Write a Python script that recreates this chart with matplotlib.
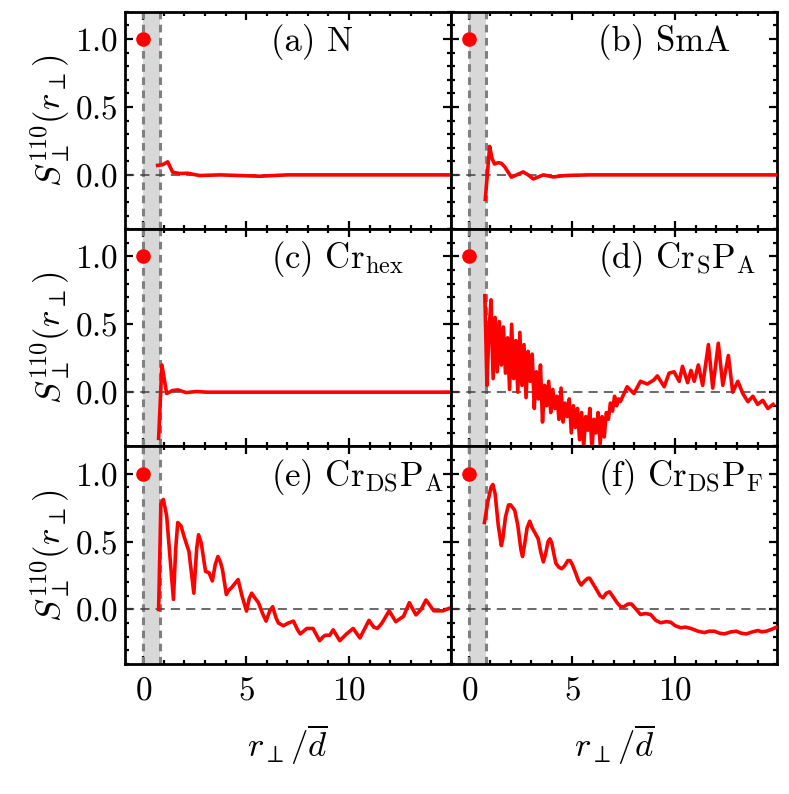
import numpy as np
import matplotlib
matplotlib.use("Agg")
import matplotlib.pyplot as plt
from matplotlib.ticker import MultipleLocator

plt.rcParams['font.family'] = ['cmr10', 'DejaVu Serif']
plt.rcParams['mathtext.fontset'] = 'cm'
plt.rcParams['axes.formatter.use_mathtext'] = True

# ---------------- data ----------------
labels = ["(a) N", "(b) SmA", r"(c) Cr$_{\mathrm{hex}}$", r"(d) Cr$_{\mathrm{S}}$P$_{\mathrm{A}}$",
          r"(e) Cr$_{\mathrm{DS}}$P$_{\mathrm{A}}$", r"(f) Cr$_{\mathrm{DS}}$P$_{\mathrm{F}}$"]

xa = [0.70, 0.95, 1.19, 1.43, 1.76, 2.17, 2.74, 3.72, 5.67, 7.0, 10.2, 14.9]
ya = [0.07, 0.075, 0.096, 0.02, 0.01, 0.012, -0.005, 0.0, -0.01, 0.0, 0.0, 0.0]

xb = [0.77, 0.98, 1.10, 1.22, 1.40, 1.55, 1.71, 2.04, 2.30, 2.61, 2.85, 3.10, 3.35, 3.59, 4.07, 4.65, 5.8, 7.4, 10.7, 14.9]
yb = [-0.18, 0.21, 0.12, 0.08, 0.09, 0.085, 0.06, -0.017, 0.0, 0.022, 0.0, -0.03, -0.015, 0.0, -0.015, -0.005, 0.0, 0.0, 0.0, 0.0]

xc = [0.75, 0.91, 1.14, 1.43, 1.68, 2.09, 2.59, 3.07, 5.0, 14.9]
yc = [-0.34, 0.20, -0.01, 0.012, 0.017, -0.003, 0.005, 0.0, 0.0, 0.0]

xd = [0.75, 0.85, 0.95, 1.05, 1.15, 1.25, 1.35, 1.45, 1.55, 1.65,
      1.75, 1.85, 1.95, 2.05, 2.15, 2.25, 2.35, 2.45, 2.55, 2.65,
      2.75, 2.85, 2.95, 3.05, 3.15, 3.25, 3.35, 3.45, 3.55, 3.65,
      3.75, 3.85, 3.95, 4.05, 4.15, 4.25, 4.35, 4.45, 4.55, 4.65,
      4.75, 4.85, 4.95, 5.05, 5.15, 5.25, 5.35, 5.45, 5.55, 5.65,
      5.75, 5.85, 5.95, 6.05, 6.15, 6.25, 6.35, 6.45, 6.55, 6.65,
      6.75, 6.85, 6.95, 7.05, 7.15, 7.25,
      7.33, 7.66, 7.99, 8.31, 8.64, 8.96, 9.13, 9.46, 9.70, 9.94,
      10.19, 10.35, 10.60, 10.76, 10.92, 11.12, 11.33, 11.61, 11.82, 12.09,
      12.31, 12.58, 12.79, 13.04, 13.28, 13.53, 13.77, 14.00, 14.25, 14.50, 14.75]
yd = [0.71, 0.05, 0.45, 0.68, 0.10, 0.55, 0.15, 0.52, 0.20, 0.48,
      0.14, 0.40, 0.02, 0.50, 0.10, 0.38, 0.00, 0.44, 0.05, 0.35,
      -0.04, 0.30, 0.08, 0.28, -0.12, 0.15, -0.05, 0.20, -0.22, 0.05,
      -0.10, 0.08, -0.15, 0.02, -0.12, -0.03, -0.20, 0.03, -0.22, -0.08,
      -0.18, -0.05, -0.30, -0.10, -0.26, -0.12, -0.35, -0.15, -0.40, -0.18,
      -0.28, -0.12, -0.42, -0.20, -0.30, -0.15, -0.38, -0.18, -0.33, -0.15,
      -0.20, -0.08, -0.14, -0.03, -0.10, -0.05,
      -0.07, 0.04, -0.01, 0.08, 0.06, 0.09, 0.12, 0.04, 0.14, 0.15,
      0.08, 0.19, 0.07, 0.16, 0.08, 0.20, 0.05, 0.35, 0.03, 0.36,
      0.05, 0.27, 0.00, 0.08, -0.01, -0.07, -0.03, -0.09, -0.06, -0.12, -0.09]

xe = [0.75, 0.86, 0.98, 1.14, 1.30, 1.47, 1.58, 1.68, 1.84, 2.00, 2.15, 2.22, 2.46, 2.60,
      2.69, 2.82, 3.03, 3.20, 3.36, 3.50, 3.63, 3.75, 3.85, 4.04, 4.15, 4.29, 4.45, 4.61,
      4.80, 5.02, 5.15, 5.27, 5.40, 5.60, 5.80, 5.97, 6.15, 6.29, 6.45, 6.57, 6.81, 7.05,
      7.30, 7.50, 7.63, 7.95, 8.25, 8.57, 8.75, 8.85, 9.06, 9.23, 9.55, 9.88, 10.20, 10.53,
      10.97, 11.20, 11.38, 11.60, 11.95, 12.27, 12.65, 12.93, 13.25, 13.50, 13.74, 14.12,
      14.56, 14.90]
ye = [0.0, 0.775, 0.81, 0.69, 0.39, 0.074, 0.45, 0.64, 0.615, 0.53, 0.46, 0.43, 0.12, 0.45,
      0.55, 0.49, 0.28, 0.27, 0.21, 0.33, 0.39, 0.35, 0.295, 0.11, 0.14, 0.16, 0.19, 0.22,
      0.10, -0.012, 0.08, 0.12, 0.09, 0.05, -0.03, -0.086, -0.01, 0.02, -0.06, -0.10, -0.12, -0.10,
      -0.086, -0.15, -0.18, -0.14, -0.14, -0.23, -0.20, -0.19, -0.19, -0.15, -0.23, -0.18, -0.14, -0.21,
      -0.08, -0.13, -0.14, -0.10, -0.01, -0.09, -0.05, 0.05, -0.04, 0.0, 0.07, -0.01,
      -0.01, 0.01]

xf = [0.73, 0.90, 1.05, 1.14, 1.25, 1.40, 1.55, 1.62, 1.75, 1.90, 2.00, 2.20, 2.35, 2.50,
      2.58, 2.68, 2.80, 2.93, 3.05, 3.20, 3.34, 3.47, 3.59, 3.70, 3.82, 3.91, 4.00, 4.10,
      4.20, 4.35, 4.48, 4.62, 4.78, 4.89, 5.00, 5.18, 5.30, 5.43, 5.60, 5.75, 5.84, 6.00,
      6.16, 6.35, 6.49, 6.65, 6.81, 6.95, 7.17, 7.35, 7.50, 7.70, 7.87, 8.05, 8.31, 8.55,
      8.80, 9.05, 9.29, 9.55, 9.78, 10.00, 10.27, 10.50, 10.76, 11.10, 11.41, 11.65, 11.90,
      12.15, 12.39, 12.70, 12.96, 13.20, 13.45, 13.75, 14.02, 14.20, 14.43, 14.70, 14.92]
yf = [0.64, 0.80, 0.90, 0.92, 0.85, 0.62, 0.47, 0.52, 0.68, 0.77, 0.77, 0.73, 0.62, 0.44,
      0.39, 0.48, 0.60, 0.65, 0.60, 0.56, 0.52, 0.42, 0.35, 0.41, 0.50, 0.52, 0.49, 0.41,
      0.34, 0.31, 0.30, 0.32, 0.36, 0.36, 0.33, 0.26, 0.21, 0.18, 0.21, 0.23, 0.23, 0.19,
      0.15, 0.10, 0.086, 0.12, 0.13, 0.10, 0.05, 0.02, 0.02, 0.04, 0.04, 0.01, -0.037, -0.03,
      -0.037, -0.08, -0.098, -0.09, -0.094, -0.12, -0.135, -0.13, -0.14, -0.16, -0.17, -0.16, -0.16,
      -0.175, -0.18, -0.165, -0.16, -0.175, -0.18, -0.165, -0.155, -0.165, -0.16, -0.145, -0.13]

series = [(xa, ya), (xb, yb), (xc, yc), (xd, yd), (xe, ye), (xf, yf)]
self_point = (0.0, 1.0)
band = (0.0, 0.8)

# ---------------- figure ----------------
fig, axes = plt.subplots(3, 2, figsize=(7.89, 7.94), dpi=100, sharex=True, sharey=True,
                         gridspec_kw=dict(hspace=0, wspace=0))
fig.subplots_adjust(left=0.158, right=0.985, top=0.985, bottom=0.164)

for i, ax in enumerate(axes.flat):
    x, y = series[i]
    ax.axvspan(band[0], band[1], color='#d8d8d8', lw=0, zorder=1)
    for xv in band:
        ax.axvline(xv, color='0.5', lw=2.2, ls=(0, (2.5, 1.8)), zorder=2)
    ax.axhline(0, color='0.25', lw=1.1, ls=(0, (6, 4)), zorder=2)
    ax.plot(x, y, color='red', lw=2.6, zorder=3, solid_joinstyle='round')
    ax.plot([self_point[0]], [self_point[1]], 'o', color='red', ms=9.5, zorder=4)
    ax.text(0.45, 0.82, labels[i], transform=ax.transAxes, fontsize=25,
            ha='left', va='baseline', zorder=5)
    ax.set_xlim(-0.9, 14.95)
    ax.set_ylim(-0.4, 1.2)
    ax.xaxis.set_major_locator(MultipleLocator(5))
    ax.xaxis.set_minor_locator(MultipleLocator(1))
    ax.yaxis.set_major_locator(MultipleLocator(0.5))
    ax.yaxis.set_minor_locator(MultipleLocator(0.1))
    ax.tick_params(which='both', direction='in', top=True, right=True, labelsize=24)
    ax.tick_params(which='major', length=6, width=1.6)
    ax.tick_params(which='minor', length=3, width=1.6)
    ax.tick_params(axis='x', pad=9)
    ax.tick_params(axis='y', pad=5)
    for s in ax.spines.values():
        s.set_linewidth(2.0)
    if i % 2 == 0:
        ax.set_ylabel(r'$S_{\perp}^{110}(r_{\perp})$', fontsize=25, labelpad=2)
    if i >= 4:
        ax.set_xlabel(r'$r_{\perp}/\overline{d}$', fontsize=25, labelpad=12)

fig.savefig('out.png', dpi=100)
